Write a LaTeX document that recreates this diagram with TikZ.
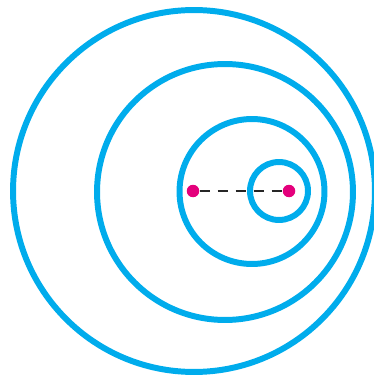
\documentclass[tikz,border=0pt]{standalone}
\usetikzlibrary{positioning}
\definecolor{ringblue}{RGB}{0,172,236}
\definecolor{dotpink}{RGB}{228,0,124}

\begin{document}
\begin{tikzpicture}[
    x=0.02cm, y=-0.02cm,
    ring/.style={circle, draw=ringblue, line width=3.4pt, inner sep=0pt},
    dot/.style={circle, fill=dotpink, inner sep=0pt, minimum size=0.25cm},
    link/.style={draw=black!85, line width=1.5pt, dash pattern=on 0.2cm off 0.16cm}
]
\useasboundingbox (0,0) rectangle (374,375);

\node (outer) [ring, minimum size=7.24cm] at (194,191) {};
\node (second) [ring, minimum size=5.12cm] at (225,192) {};
\node (third) [ring, minimum size=2.9cm] at (252,191.5) {};
\node (inner) [ring, minimum size=1.16cm] at (279,191) {};

\node (left) [dot] at (193,191) {};
\node (right) [dot] at (289,191) {};

\draw [link] (left) -- (right);

\end{tikzpicture}
\end{document}
